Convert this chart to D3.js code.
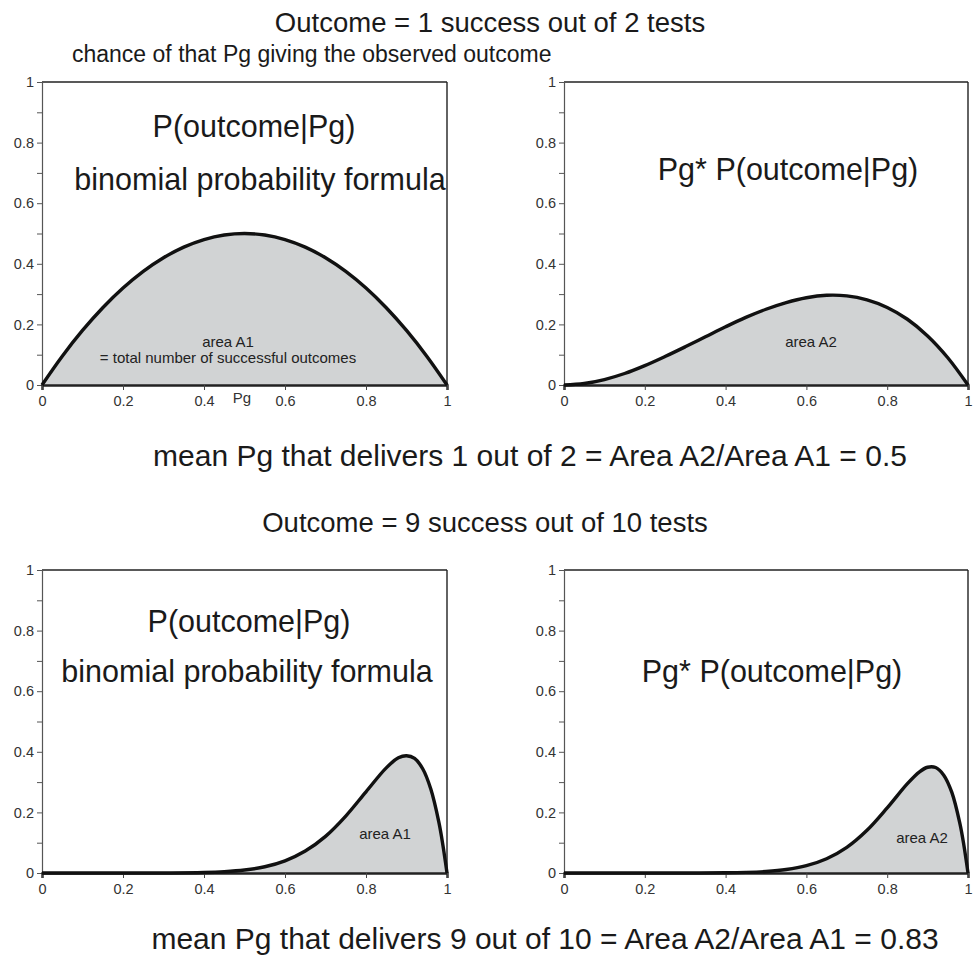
<!DOCTYPE html>
<html><head><meta charset="utf-8">
<script src="https://cdn.jsdelivr.net/npm/d3@7"></script>
<style>body{margin:0;background:#fff}svg{display:block;font-family:"Liberation Sans",Arial,sans-serif}</style>
</head><body>
<svg id="c" width="974" height="963"></svg>
<script>
// Pg sample points and values
const pgTop = [0,0.05,0.1,0.15,0.2,0.25,0.3,0.35,0.4,0.45,0.5,0.55,0.6,0.65,0.7,0.75,0.8,0.85,0.9,0.95,1];
const topLeftVals  = [0,0.095,0.18,0.255,0.32,0.375,0.42,0.455,0.48,0.495,0.5,0.495,0.48,0.455,0.42,0.375,0.32,0.255,0.18,0.095,0];
const topRightVals = [0,0.005,0.018,0.038,0.064,0.094,0.126,0.159,0.192,0.223,0.25,0.272,0.288,0.296,0.294,0.281,0.256,0.217,0.162,0.090,0];
const pgBottom = [0,0.1,0.2,0.3,0.4,0.45,0.5,0.55,0.6,0.65,0.7,0.75,0.8,0.85,0.88,0.9,0.92,0.94,0.96,0.98,0.99,1];
const bottomLeftVals  = [0,0,0,0.0001,0.0016,0.0042,0.0098,0.0207,0.0403,0.0725,0.121,0.188,0.268,0.347,0.380,0.387,0.378,0.344,0.277,0.167,0.091,0];
const bottomRightVals = [0,0,0,0,0.0006,0.0019,0.0049,0.0114,0.0242,0.0471,0.0847,0.141,0.215,0.295,0.334,0.349,0.348,0.323,0.266,0.163,0.090,0];
const xTicks = [0,0.2,0.4,0.6,0.8,1];
const yMajor = [0,0.2,0.4,0.6,0.8,1];
const yMinor = [0.1,0.3,0.5,0.7,0.9];

const svg = d3.select("#c");
const FONT = "Liberation Sans, Arial, sans-serif";

const panels = [
  {x0:42, x1:447, y0:385, y1:82, pg:pgTop, v:topLeftVals},
  {x0:564, x1:968, y0:385, y1:82, pg:pgTop, v:topRightVals},
  {x0:42, x1:447, y0:873, y1:570, pg:pgBottom, v:bottomLeftVals},
  {x0:564, x1:968, y0:873, y1:570, pg:pgBottom, v:bottomRightVals}
];

panels.forEach(p => {
  const x = d3.scaleLinear().domain([0,1]).range([p.x0,p.x1]);
  const y = d3.scaleLinear().domain([0,1]).range([p.y0,p.y1]);
  const g = svg.append("g");
  const data = p.pg.map((d,i)=>[d,p.v[i]]);
  const curve = d3.curveCatmullRom.alpha(0.5);
  g.append("path").datum(data)
    .attr("d", d3.area().x(d=>x(d[0])).y0(y(0)).y1(d=>y(Math.max(0,d[1]))).curve(curve))
    .attr("fill","#d1d3d4");
  // frame top & right
  g.append("line").attr("x1",x(0)).attr("x2",x(1)).attr("y1",y(1)).attr("y2",y(1)).attr("stroke","#222").attr("stroke-width",1.4);
  g.append("line").attr("x1",x(1)).attr("x2",x(1)).attr("y1",y(1)).attr("y2",y(0)).attr("stroke","#222").attr("stroke-width",1.4);
  // y axis
  const ya = g.append("g").attr("transform",`translate(${x(0)},0)`)
    .call(d3.axisLeft(y).tickValues(yMajor).tickSize(5).tickPadding(3).tickFormat(d3.format("~g")));
  ya.attr("font-size",null).attr("font-family",null);
  ya.select(".domain").attr("stroke","#555").attr("stroke-width",1.2);
  ya.selectAll(".tick line").attr("stroke","#555");
  ya.selectAll("text").style("font-size","14.5px").attr("fill","#333").style("font-family",FONT);
  const ym = g.append("g").attr("transform",`translate(${x(0)},0)`)
    .call(d3.axisLeft(y).tickValues(yMinor).tickSize(5).tickFormat(""));
  ym.select(".domain").remove();
  ym.selectAll(".tick line").attr("stroke","#555");
  // x axis
  const xa = g.append("g").attr("transform",`translate(0,${y(0)})`)
    .call(d3.axisBottom(x).tickValues(xTicks).tickSize(5).tickPadding(6).tickFormat(d3.format("~g")));
  xa.attr("font-size",null).attr("font-family",null);
  xa.select(".domain").attr("stroke","#222").attr("stroke-width",2.4);
  xa.selectAll(".tick line").attr("stroke","#444");
  xa.selectAll("text").style("font-size","14.5px").attr("fill","#333").style("font-family",FONT);
  // curve
  g.append("path").datum(data)
    .attr("d", d3.line().x(d=>x(d[0])).y(d=>y(d[1])).curve(curve))
    .attr("fill","none").attr("stroke","#111").attr("stroke-width",3.4).attr("stroke-linejoin","round");
});

function txt(s, xx, yy, size, anchor="middle", fill="#1a1a1a"){
  svg.append("text").attr("x",xx).attr("y",yy).style("font-size",size+"px")
    .attr("text-anchor",anchor).attr("fill",fill).text(s);
}
txt("Outcome = 1 success out of 2 tests", 490, 32, 27.5);
txt("chance of that Pg giving the observed outcome", 72, 62, 23, "start");
txt("P(outcome|Pg)", 254, 137, 30.5);
txt("binomial probability formula", 260, 190, 30.5);
txt("Pg* P(outcome|Pg)", 788, 180, 30.5);
txt("area A1", 228, 347, 15, "middle", "#222");
txt("= total number of successful outcomes", 228, 363, 15, "middle", "#222");
txt("Pg", 242, 403, 15, "middle", "#333");
txt("area A2", 811, 347, 15, "middle", "#222");
txt("mean Pg that delivers 1 out of 2 = Area A2/Area A1 = 0.5", 530, 466, 30);
txt("Outcome = 9 success out of 10 tests", 485, 532, 27.5);
txt("P(outcome|Pg)", 249, 632, 30.5);
txt("binomial probability formula", 247, 682, 30.5);
txt("Pg* P(outcome|Pg)", 772, 682, 30.5);
txt("area A1", 385, 839, 15, "middle", "#222");
txt("area A2", 922, 843, 15, "middle", "#222");
txt("mean Pg that delivers 9 out of 10 = Area A2/Area A1 = 0.83", 545, 949, 30);
</script>
</body></html>
